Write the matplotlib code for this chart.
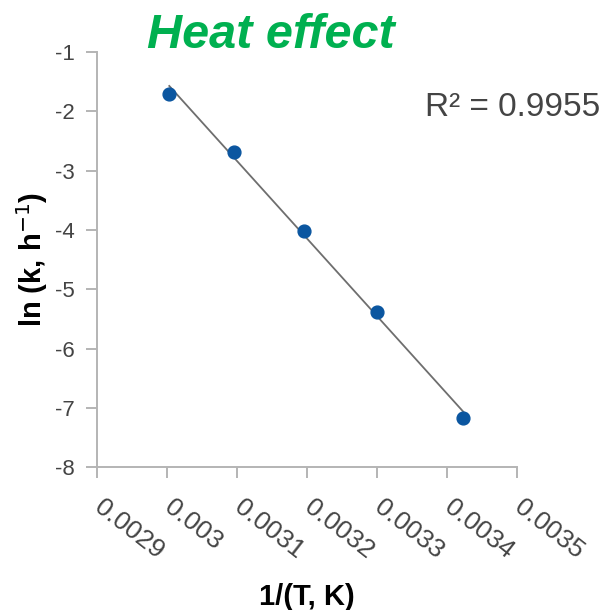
import numpy as np
import matplotlib.pyplot as plt
import matplotlib.transforms as mtransforms

plt.rcParams['font.family'] = ['Liberation Sans', 'DejaVu Sans']

inv_t = [0.003003, 0.003096, 0.003195, 0.003300, 0.003423]
ln_k = [-1.71, -2.69, -4.02, -5.38, -7.17]
x_ticks = [0.0029, 0.003, 0.0031, 0.0032, 0.0033, 0.0034, 0.0035]
x_tick_labels = ['0.0029', '0.003', '0.0031', '0.0032', '0.0033', '0.0034', '0.0035']
y_ticks = [-8, -7, -6, -5, -4, -3, -2, -1]

fig = plt.figure(figsize=(6.15, 6.1), dpi=100)
ax = fig.add_axes([0.158, 0.234, 0.683, 0.681])

# linear trendline over the data range
slope, icpt = np.polyfit(inv_t, ln_k, 1)
xs = np.array([min(inv_t), max(inv_t)])
ax.plot(xs, slope * xs + icpt, color='#6e6e6e', lw=1.3, zorder=2)
ax.scatter(inv_t, ln_k, s=85, color='#0b56a0', zorder=3)

ax.set_xlim(0.0029, 0.0035)
ax.set_ylim(-8, -1)
ax.set_xticks(x_ticks)
ax.set_xticklabels(x_tick_labels, rotation=-38, ha='left', va='center',
                   rotation_mode='anchor', fontsize=19, color='#444444')
shift = mtransforms.ScaledTranslation(5 / 72, 0, fig.dpi_scale_trans)
for lbl in ax.get_xticklabels():
    lbl.set_transform(lbl.get_transform() + shift)
ax.set_yticks(y_ticks)
ax.set_yticklabels([str(v) for v in y_ticks], fontsize=16, color='#444444')

for s in ['top', 'right']:
    ax.spines[s].set_visible(False)
for s in ['left', 'bottom']:
    ax.spines[s].set_color('#b4b4b4')
    ax.spines[s].set_linewidth(1.4)
ax.tick_params(axis='both', colors='#b4b4b4', length=8, width=1.4, labelcolor='#444444')
ax.tick_params(axis='x', pad=19)
ax.tick_params(axis='y', pad=8)

ax.set_xlabel('1/(T, K)', fontsize=21, fontweight='bold')
ax.xaxis.set_label_coords(0.5, -0.278)
ax.set_ylabel('ln (k, h$^{-1}$)', fontsize=21, fontweight='bold')
ax.yaxis.set_label_coords(-0.112, 0.5)

fig.text(425 / 615, 1 - 108 / 610, 'R² = 0.9955', fontsize=24,
         color='#444444', ha='left', va='center')

fig.text(271 / 615, 1 - 36 / 610, 'Heat effect', fontsize=35, fontweight='bold',
         fontstyle='italic', color='#00b050', ha='center', va='center')

fig.savefig('out.png', dpi=100)
